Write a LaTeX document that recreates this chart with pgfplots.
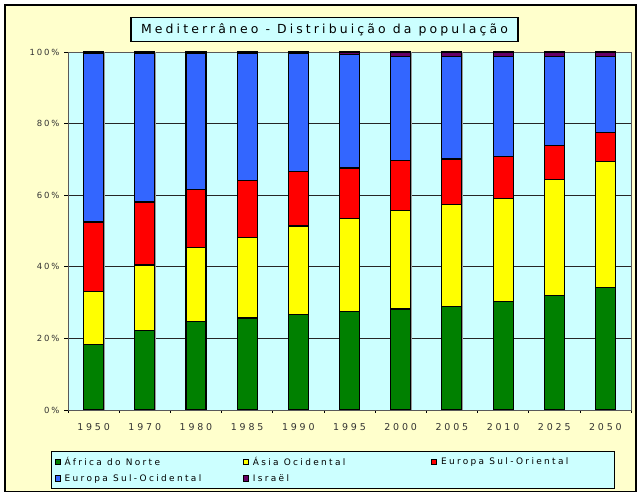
\documentclass[border=0pt]{standalone}
\usepackage{pgfplots}
\pgfplotsset{compat=1.18}
\usepackage{fontspec}
\setmainfont{DejaVu Sans}
\newfontfamily\tickfont[LetterSpace=30]{DejaVu Sans}
\newfontfamily\ytickfont[LetterSpace=22]{DejaVu Sans}
\newfontfamily\legfont[LetterSpace=26]{DejaVu Sans}
\newfontfamily\titfont[LetterSpace=25]{DejaVu Sans}
\definecolor{cream}{HTML}{FFFFCC}
\definecolor{pcyan}{HTML}{CCFFFF}
\definecolor{cgreen}{HTML}{008000}
\definecolor{cyellow}{HTML}{FFFF00}
\definecolor{cred}{HTML}{FF0000}
\definecolor{cblue}{HTML}{3366FF}
\definecolor{cpurple}{HTML}{660066}
\pgfplotstableread{
x green yellow red blue israel
0 18.4 14.6 19.5 47.1 0.4
1 22.1 18.4 17.6 41.5 0.4
2 24.6 20.9 16.2 37.9 0.4
3 25.7 22.6 15.7 35.5 0.5
4 26.8 24.6 15.1 33.0 0.5
5 27.4 26.0 14.2 31.8 0.6
6 28.2 27.4 14.0 29.2 1.2
7 28.8 28.7 12.6 28.7 1.2
8 30.4 28.8 11.5 28.1 1.2
9 32.1 32.4 9.5 24.7 1.3
10 34.1 35.2 8.1 21.3 1.3
}\datatable
\begin{document}
\begin{tikzpicture}[x=1bp,y=1bp]
\path[use as bounding box] (0,0) rectangle (640,496);
\draw[fill=cream, line width=1.5bp] (5,4.5) rectangle (636,491);
\begin{axis}[
  at={(68bp,86bp)}, anchor=south west,
  scale only axis, width=563bp, height=358bp,
  ybar stacked, bar width=20bp,
  xmin=-0.5, xmax=10.5, ymin=0, ymax=100,
  axis background/.style={fill=pcyan},
  axis line style={draw=gray!70!black, line width=0.8bp},
  xtick={0,...,10},
  xticklabels={1950,1970,1980,1985,1990,1995,2000,2005,2010,2025,2050},
  major x tick style={draw=none},
  minor xtick={-0.5,0.5,...,10.5},
  minor x tick style={draw=black, line width=0.6bp},
  minor tick length=3bp,
  extra x ticks={0.2,1.2,...,10.2},
  extra x tick labels={},
  extra x tick style={grid=major, major grid style={draw=gray!80, line width=0.6bp}, major tick length=0pt},
  ytick={0,20,...,100},
  yticklabel={\pgfmathprintnumber{\tick}\%},
  ymajorgrids, major grid style={draw=black!85, line width=0.8bp},
  y tick style={draw=black, line width=0.6bp},
  major tick length=4bp,
  tick align=outside,
  xtick pos=bottom, ytick pos=left,
  /pgf/number format/assume math mode=true,
  xticklabel style={font=\tickfont\fontsize{9.5}{11}\selectfont, yshift=-6bp, text=black!80},
  yticklabel style={font=\ytickfont\fontsize{8.5}{10}\selectfont, xshift=-1bp, text=black!80},
  legend columns=3,
  legend style={at={(-0.0302,-0.1145)}, anchor=north west,
    fill=pcyan, draw=black, line width=1bp,
    font=\legfont\fontsize{9}{11}\selectfont,
    inner xsep=3bp, inner ysep=3.5bp,
    /tikz/every odd column/.append style={column sep=2bp},
    row sep=3.5bp},
  legend image code/.code={\draw[#1, draw=black, line width=0.6bp] (0bp,-2.8bp) rectangle (5.6bp,2.8bp);},
]
\addplot[fill=cgreen, draw=black, line width=1.1bp] table[x=x, y=green] {\datatable};
\addlegendentry{\makebox[176bp][l]{África do Norte}}
\addplot[fill=cyellow, draw=black, line width=1.1bp] table[x=x, y=yellow] {\datatable};
\addlegendentry{\makebox[176bp][l]{Ásia Ocidental}}
\addplot[fill=cred, draw=black, line width=1.1bp] table[x=x, y=red] {\datatable};
\addlegendentry{\makebox[168bp][l]{Europa Sul-Oriental}}
\addplot[fill=cblue, draw=black, line width=1.1bp] table[x=x, y=blue] {\datatable};
\addlegendentry{\makebox[176bp][l]{Europa Sul-Ocidental}}
\addplot[fill=cpurple, draw=black, line width=1.1bp] table[x=x, y=israel] {\datatable};
\addlegendentry{\makebox[176bp][l]{Israël}}
\end{axis}
\node[draw=black, fill=pcyan, line width=1.2bp, minimum width=387bp, minimum height=24.5bp, inner sep=0pt, font=\titfont\fontsize{12.5}{14}\selectfont] at (324.5,466.5) {Mediterrâneo - Distribuição da população};
\end{tikzpicture}
\end{document}
